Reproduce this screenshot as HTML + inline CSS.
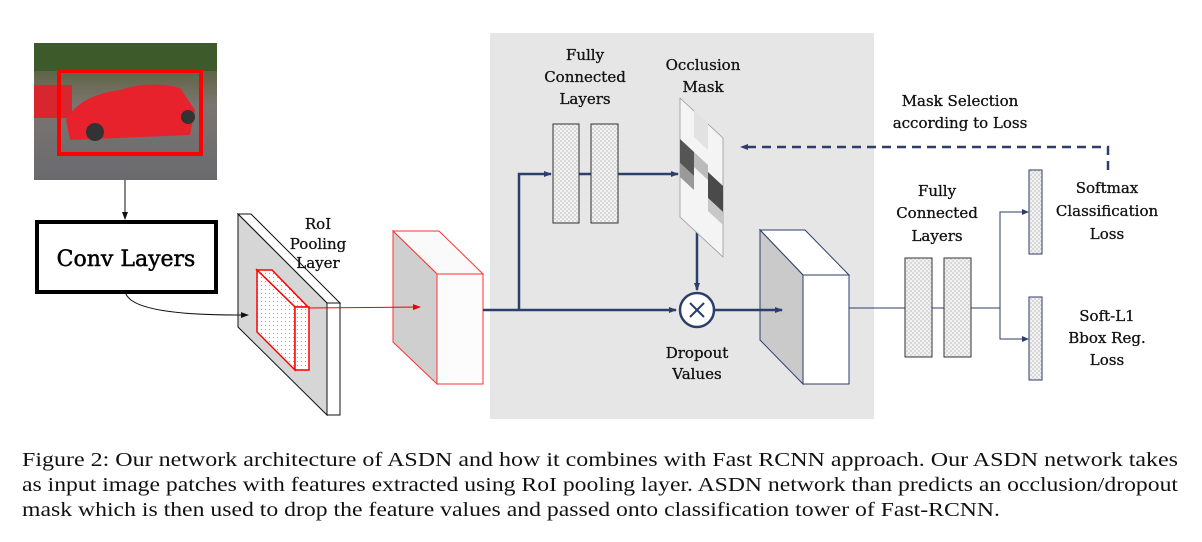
<!DOCTYPE html>
<html><head><meta charset="utf-8"><style>
html,body{margin:0;padding:0;background:#fff;}
svg{display:block;}
.lb{font-family:"DejaVu Serif","Liberation Serif",serif;font-size:15px;fill:#111;stroke:#111;stroke-width:0.3;text-anchor:middle;}
.cap{font-family:"Liberation Serif",serif;font-size:20px;fill:#111;}
</style></head><body>
<svg width="1202" height="542" viewBox="0 0 1202 542" xmlns="http://www.w3.org/2000/svg">
<defs>
<pattern id="chk" width="4" height="4" patternUnits="userSpaceOnUse"><rect width="4" height="4" fill="#f2f2f2"/><rect width="2" height="2" fill="#d8d8d8"/><rect x="2" y="2" width="2" height="2" fill="#d8d8d8"/></pattern>
<pattern id="dot" width="4" height="4" patternUnits="userSpaceOnUse"><rect width="4" height="4" fill="#fff"/><rect x="1" y="1" width="1" height="1" fill="#9aa6b8"/></pattern>
<linearGradient id="sky" x1="0" y1="0" x2="0" y2="1"><stop offset="0" stop-color="#3f5a2a"/><stop offset="0.3" stop-color="#6b6a55"/><stop offset="0.45" stop-color="#7a7570"/><stop offset="1" stop-color="#6a6a6e"/></linearGradient>
<marker id="an" markerWidth="8" markerHeight="8" refX="7" refY="4" orient="auto" markerUnits="userSpaceOnUse"><path d="M0,1 L8,4 L0,7 Z" fill="#2c3e6b"/></marker>
<marker id="ak" markerWidth="8" markerHeight="8" refX="7" refY="4" orient="auto" markerUnits="userSpaceOnUse"><path d="M0,1 L8,4 L0,7 Z" fill="#111"/></marker>
<marker id="ar" markerWidth="8" markerHeight="8" refX="7" refY="4" orient="auto" markerUnits="userSpaceOnUse"><path d="M0,1 L8,4 L0,7 Z" fill="#e00"/></marker>
</defs>
<rect x="490" y="33" width="384" height="386" fill="#e6e6e6"/>
<rect x="34" y="43" width="183" height="137" fill="url(#sky)"/>
<rect x="34" y="43" width="183" height="28" fill="#3d5a2a"/>
<path d="M34,85 L72,85 L72,118 L34,118 Z" fill="#d8262e"/>
<path d="M66,120 Q80,95 120,90 Q150,80 180,88 L195,110 L190,135 L70,140 Z" fill="#e8222c"/>
<circle cx="95" cy="132" r="9" fill="#333"/><circle cx="188" cy="117" r="7" fill="#333"/>
<rect x="59" y="71" width="142" height="83" fill="none" stroke="#f00" stroke-width="4"/>
<line x1="125" y1="180" x2="125" y2="219" stroke="#111" stroke-width="1" marker-end="url(#ak)"/>
<rect x="37" y="222" width="179" height="70" fill="#fff" stroke="#000" stroke-width="4"/>
<text x="126" y="266" style="font-family:'DejaVu Serif',serif;font-size:22px;fill:#000;stroke:#000;stroke-width:0.5;text-anchor:middle">Conv Layers</text>
<polygon points="238,214 251,214 340,303 327,303" fill="#fff" stroke="#111" stroke-width="1"/>
<polygon points="238,214 327,303 327,415 238,327" fill="#d6d6d6" stroke="#111" stroke-width="1"/>
<rect x="327" y="303" width="13" height="112" fill="#fff" stroke="#111" stroke-width="1"/>
<path d="M126,294 Q135,316 248,315" fill="none" stroke="#111" stroke-width="1" marker-end="url(#ak)"/>
<polygon points="257,270 272,270 308,307 295,307" fill="url(#dot)" stroke="#f00" stroke-width="1.5"/>
<polygon points="257,270 295,307 295,370 257,332" fill="url(#dot)" stroke="#f00" stroke-width="1.5"/>
<rect x="295" y="307" width="14" height="63" fill="url(#dot)" stroke="#f00" stroke-width="1.5"/>
<text class="lb" x="318" y="229">RoI</text>
<text class="lb" x="318" y="249">Pooling</text>
<text class="lb" x="318" y="268">Layer</text>
<polygon points="393,231 439,231 483,274 437,274" fill="#fafafa" stroke="#f33" stroke-width="1"/>
<polygon points="393,231 437,274 437,384 393,342" fill="#cfcfcf" stroke="#f33" stroke-width="1"/>
<rect x="437" y="274" width="46" height="110" fill="#fcfcfc" stroke="#f33" stroke-width="1"/>
<line x1="309" y1="308" x2="420" y2="307" stroke="#e00" stroke-width="1" marker-end="url(#ar)"/>
<g stroke="#2c3e6b" stroke-width="2.5" fill="none">
<line x1="483" y1="310" x2="676" y2="310" marker-end="url(#an)"/>
<polyline points="519,310 519,174 551,174" marker-end="url(#an)"/>
<line x1="579" y1="174" x2="591" y2="174"/>
<line x1="618" y1="174" x2="678" y2="174" marker-end="url(#an)"/>
<line x1="697" y1="232" x2="697" y2="290" marker-end="url(#an)"/>
<polyline points="1108,170 1108,147 741,147" stroke-dasharray="9,6" marker-end="url(#an)"/>
</g>
<rect x="553" y="124" width="26" height="99" fill="url(#chk)" stroke="#333" stroke-width="1"/>
<rect x="591" y="124" width="27" height="99" fill="url(#chk)" stroke="#333" stroke-width="1"/>
<polygon points="680,98 723,138 723,257 680,217" fill="#f4f4f4" stroke="#999" stroke-width="0.8"/>
<polygon points="680,139 694,152 694,176 680,163" fill="#555"/>
<polygon points="694,152 708,165 708,180 694,167" fill="#bbb"/>
<polygon points="708,172 723,186 723,212 708,198" fill="#4a4a4a"/>
<polygon points="680,163 694,176 694,190 680,177" fill="#999"/>
<polygon points="708,198 723,212 723,225 708,211" fill="#c8c8c8"/>
<polygon points="694,110 708,123 708,150 694,137" fill="#e2e2e2"/>
<circle cx="697" cy="310" r="17" fill="#fff" stroke="#2c3e6b" stroke-width="2.5"/>
<path d="M690,303 L704,317 M704,303 L690,317" stroke="#2c3e6b" stroke-width="2"/>
<polygon points="760,230 805,230 849,275 803,275" fill="#fff" stroke="#2c3e6b" stroke-width="1"/>
<polygon points="760,230 803,275 803,384 760,340" fill="#cacaca" stroke="#2c3e6b" stroke-width="1"/>
<rect x="803" y="275" width="46" height="109" fill="#fff" stroke="#2c3e6b" stroke-width="1"/>
<line x1="714" y1="310" x2="782" y2="310" stroke="#2c3e6b" stroke-width="2.5" marker-end="url(#an)"/>
<g stroke="#2c3e6b" stroke-width="1" fill="none">
<line x1="849" y1="308" x2="1000" y2="308"/>
<polyline points="1027,212 1000,212 1000,339 1027,339"/>
</g>
<path d="M1022,209 L1029,212 L1022,215Z M1022,336 L1029,339 L1022,342Z" fill="#2c3e6b"/>
<rect x="905" y="258" width="27" height="99" fill="url(#chk)" stroke="#333" stroke-width="1"/>
<rect x="944" y="258" width="27" height="99" fill="url(#chk)" stroke="#333" stroke-width="1"/>
<rect x="1029" y="170" width="13" height="84" fill="url(#chk)" stroke="#2c3e6b" stroke-width="1"/>
<rect x="1029" y="297" width="13" height="83" fill="url(#chk)" stroke="#2c3e6b" stroke-width="1"/>
<text class="lb" x="585" y="60">Fully</text>
<text class="lb" x="585" y="82">Connected</text>
<text class="lb" x="585" y="104">Layers</text>
<text class="lb" x="703" y="70">Occlusion</text>
<text class="lb" x="703" y="92">Mask</text>
<text class="lb" x="960" y="106">Mask Selection</text>
<text class="lb" x="960" y="128">according to Loss</text>
<text class="lb" x="937" y="196">Fully</text>
<text class="lb" x="937" y="218">Connected</text>
<text class="lb" x="937" y="241">Layers</text>
<text class="lb" x="1107" y="193">Softmax</text>
<text class="lb" x="1107" y="216">Classification</text>
<text class="lb" x="1107" y="239">Loss</text>
<text class="lb" x="1107" y="321">Soft-L1</text>
<text class="lb" x="1107" y="343">Bbox Reg.</text>
<text class="lb" x="1107" y="365">Loss</text>
<text class="lb" x="697" y="358">Dropout</text>
<text class="lb" x="697" y="379">Values</text>
<text class="cap" x="22" y="466" textLength="1156" lengthAdjust="spacingAndGlyphs">Figure 2: Our network architecture of ASDN and how it combines with Fast RCNN approach. Our ASDN network takes</text>
<text class="cap" x="22" y="491" textLength="1156" lengthAdjust="spacingAndGlyphs">as input image patches with features extracted using RoI pooling layer. ASDN network than predicts an occlusion/dropout</text>
<text class="cap" x="22" y="516" textLength="978" lengthAdjust="spacingAndGlyphs">mask which is then used to drop the feature values and passed onto classification tower of Fast-RCNN.</text>
</svg>
</body></html>
